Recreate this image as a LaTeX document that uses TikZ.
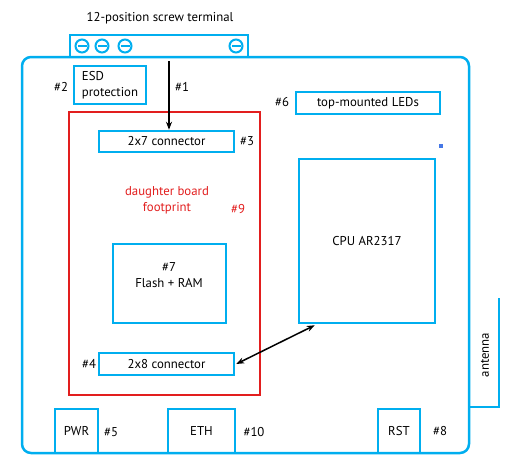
\documentclass[tikz,border=0pt]{standalone}
\usepackage{fontspec}
\setmainfont{PT Sans}
\usetikzlibrary{arrows.meta,calc}
\definecolor{cblue}{RGB}{0,174,239}
\definecolor{cred}{RGB}{226,30,30}
\definecolor{cdot}{RGB}{70,120,230}
\tikzset{
  blk/.style={draw=cblue, line width=2.5pt, inner sep=0pt, font=\fontsize{12.8}{16}\selectfont},
  redbox/.style={draw=cred, line width=2.2pt, inner sep=0pt},
  lbl/.style={inner sep=0pt, font=\fontsize{12.8}{16}\selectfont},
  screw/.style={circle, draw=cblue, line width=2pt, minimum size=13pt, inner sep=0pt},
  arr/.style={line width=1.5pt, -{Stealth[length=8pt,width=6pt]}},
  darr/.style={line width=1.5pt, {Stealth[length=8pt,width=6pt]}-{Stealth[length=8pt,width=6pt]}}
}
\begin{document}
\begin{tikzpicture}[x=1pt,y=-1pt]
\useasboundingbox (0,0) rectangle (532,472);
% title and screw terminal
\node[lbl] (title) at (160,18) {12-position screw terminal};
\node[blk, minimum width=178pt, minimum height=22pt] (term) at (159,46) {};
\foreach \i/\x in {1/82,2/102,3/125,4/236}{
  \node[screw] (s\i) at (\x,46) {};
  \draw[cblue, line width=2pt] ($(s\i.center)+(-4.5,0)$) -- ($(s\i.center)+(4.5,0)$);
}
% board
\node[blk, rounded corners=9pt, minimum width=447pt, minimum height=396pt] (board) at (245.5,255) {};
% antenna
\coordinate (antop) at (499,298);
\coordinate (anbot) at (499,407);
\coordinate (anleft) at (469,407);
\draw[cblue, line width=2.5pt] (antop) -- (anbot) -- (anleft);
\node[lbl, rotate=90] (ant) at (485,355) {antenna};
% ESD
\node[blk, minimum width=72pt, minimum height=38pt, align=left] (esd) at (110,85) {ESD\\protection};
\node[lbl] (n2) at (61,87) {\#2};
% arrow 1
\coordinate (a1s) at (169,61);
\node[lbl] (n1) at (182,87) {\#1};
% daughter board footprint
\node[redbox, minimum width=191pt, minimum height=283pt] (red) at (164.5,253.5) {};
\node[blk, minimum width=135pt, minimum height=21pt] (c27) at (166.5,141.5) {2x7 connector};
\node[lbl] (n3) at (247,141) {\#3};
\node[lbl, text=cred, align=center] (dbf) at (167,200) {daughter board\\footprint};
\node[lbl, text=cred] (n9) at (238,209) {\#9};
\node[blk, minimum width=113pt, minimum height=79pt] (flash) at (169.5,283.5) {};
\node[lbl, align=center] (flashtxt) at (169,275) {\#7\\Flash + RAM};
\node[blk, minimum width=135pt, minimum height=22pt] (c28) at (166.5,364) {2x8 connector};
\node[lbl] (n4) at (89,364) {\#4};
\draw[arr] (a1s) -- (a1s |- c27.north);
% right side
\node[blk, minimum width=144pt, minimum height=22pt] (leds) at (368,103) {top-mounted LEDs};
\node[lbl] (n6) at (282,102) {\#6};
\node[fill=cdot, minimum size=4pt, inner sep=0pt] (dot) at (441,146) {};
\node[blk, minimum width=136pt, minimum height=164pt] (cpu) at (367,241) {CPU AR2317};
\draw[darr] ($(cpu.south west)+(17,1)$) -- ($(c28.east)+(1,0)$);
% bottom connectors
\node[blk, minimum width=43pt, minimum height=44pt] (pwr) at (76.5,431) {PWR};
\node[lbl] (n5) at (111,432) {\#5};
\node[blk, minimum width=67pt, minimum height=44pt] (eth) at (201.5,431) {ETH};
\node[lbl] (n10) at (254,432) {\#10};
\node[blk, minimum width=42pt, minimum height=44pt] (rst) at (399,431) {RST};
\node[lbl] (n8) at (440,431) {\#8};
\end{tikzpicture}
\end{document}
